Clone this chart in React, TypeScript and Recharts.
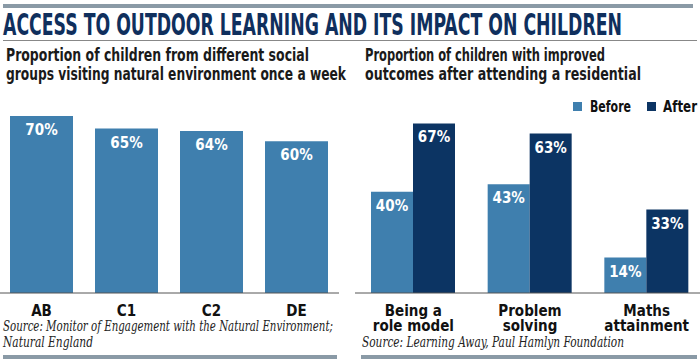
import { BarChart, Bar, XAxis, YAxis, LabelList } from 'recharts'

const groups = ['AB', 'C1', 'C2', 'DE']
const groupShare = [70, 65, 64, 60]

const outcomes = [['Being a', 'role model'], ['Problem', 'solving'], ['Maths', 'attainment']]
const before = [40, 43, 14]
const after = [67, 63, 33]

const LIGHT = '#3f7fae'
const DARK = '#0c3463'
const NAVY = '#0f2f5d'
const SANS = '"DejaVu Sans Condensed", "DejaVu Sans", sans-serif'
const SERIF = '"DejaVu Serif", "Liberation Serif", serif'

const leftData = groups.map((g, i) => ({ name: g, value: groupShare[i] }))
const rightData = outcomes.map((o, i) => ({ name: o.join('\n'), before: before[i], after: after[i] }))

function ValueLabel(props: any) {
  const { x = 0, y = 0, width = 0, value } = props
  return (
    <text x={x + width / 2} y={y + 19} fill="#fff" fontSize={15} fontWeight={700}
      fontFamily={SANS} textAnchor="middle">{value}%</text>
  )
}

function Tick(props: any) {
  const { x, y, payload } = props
  const lines = String(payload.value).split('\n')
  return (
    <g>
      {lines.map((l, i) => (
        <text key={i} x={x} y={y + 15 + i * 15} fill="#111" fontSize={15} fontWeight={700}
          fontFamily={SANS} textAnchor="middle">{l}</text>
      ))}
    </g>
  )
}

export default function App() {
  return (
    <div style={{ position: 'absolute', left: 0, top: 0, width: 700, height: 363, overflow: 'hidden', background: '#fff' }}>
      <svg width={700} height={363} style={{ position: 'absolute', left: 0, top: 0 }}>
        <rect x={3} y={4} width={690} height={4} fill="#8a9aa6" />
        <text x={3} y={35} fill={NAVY} fontSize={30} fontWeight={700} fontFamily={SANS}
          textLength={619} lengthAdjust="spacingAndGlyphs">ACCESS TO OUTDOOR LEARNING AND ITS IMPACT ON CHILDREN</text>
        <rect x={3} y={40} width={694} height={1} fill="#888" />
        <g fill="#1a1a1a" fontSize={17} fontWeight={700} fontFamily={SANS}>
          <text x={6} y={61} textLength={303} lengthAdjust="spacingAndGlyphs">Proportion of children from different social</text>
          <text x={6} y={80} textLength={340} lengthAdjust="spacingAndGlyphs">groups visiting natural environment once a week</text>
          <text x={365} y={61} textLength={240} lengthAdjust="spacingAndGlyphs">Proportion of children with improved</text>
          <text x={365} y={80} textLength={276} lengthAdjust="spacingAndGlyphs">outcomes after attending a residential</text>
        </g>
        <g fill="#222" fontSize={15} fontStyle="italic" fontFamily={SERIF}>
          <text x={3} y={331} textLength={330} lengthAdjust="spacingAndGlyphs">Source: Monitor of Engagement with the Natural Environment;</text>
          <text x={3} y={347} textLength={90} lengthAdjust="spacingAndGlyphs">Natural England</text>
          <text x={362} y={347} textLength={262} lengthAdjust="spacingAndGlyphs">Source: Learning Away, Paul Hamlyn Foundation</text>
        </g>
        <rect x={3} y={355} width={334} height={4} fill="#8a9aa6" />
        <rect x={361} y={355} width={336} height={4} fill="#8a9aa6" />
        <g fontSize={15} fontWeight={700} fontFamily={SANS} fill="#111">
          <rect x={573} y={102} width={9} height={9} fill={LIGHT} />
          <text x={590} y={112} textLength={41} lengthAdjust="spacingAndGlyphs">Before</text>
          <rect x={647} y={102} width={9} height={9} fill={DARK} />
          <text x={663} y={112} textLength={34} lengthAdjust="spacingAndGlyphs">After</text>
        </g>
      </svg>

      <div style={{ position: 'absolute', left: -1, top: 0 }}>
        <BarChart width={340} height={363} data={leftData}
          margin={{ top: 40, right: 0, bottom: 40, left: 0 }} barSize={63}>
          <XAxis dataKey="name" height={30} tickLine={false} axisLine={{ stroke: '#555' }}
            tick={<Tick />} interval={0} />
          <YAxis hide domain={[0, 100]} />
          <Bar dataKey="value" fill={LIGHT} isAnimationActive={false}>
            <LabelList dataKey="value" content={<ValueLabel />} />
          </Bar>
        </BarChart>
      </div>

      <div style={{ position: 'absolute', left: 355, top: 0 }}>
        <BarChart width={350} height={363} data={rightData}
          margin={{ top: 40, right: 0, bottom: 40, left: 0 }} barSize={42} barGap={0}>
          <XAxis dataKey="name" height={30} tickLine={false} axisLine={{ stroke: '#555' }}
            tick={<Tick />} interval={0} />
          <YAxis hide domain={[0, 100]} />
          <Bar dataKey="before" fill={LIGHT} isAnimationActive={false}>
            <LabelList dataKey="before" content={<ValueLabel />} />
          </Bar>
          <Bar dataKey="after" fill={DARK} isAnimationActive={false}>
            <LabelList dataKey="after" content={<ValueLabel />} />
          </Bar>
        </BarChart>
      </div>
    </div>
  )
}
